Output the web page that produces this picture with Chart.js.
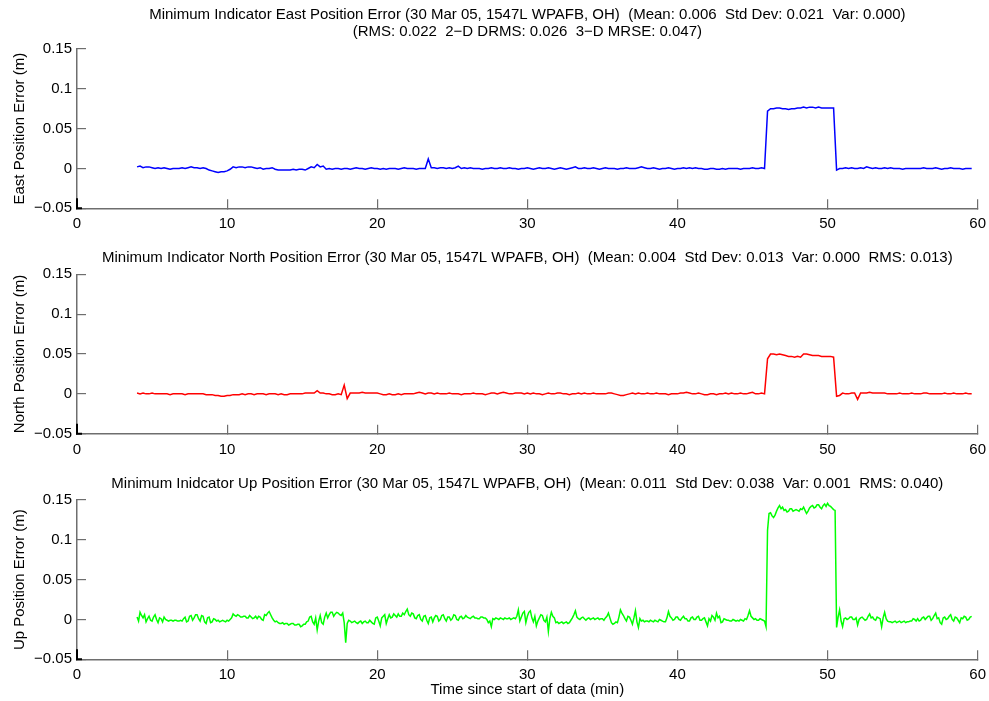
<!DOCTYPE html>
<html>
<head>
<meta charset="utf-8">
<title>Minimum Indicator Position Error</title>
<script src="https://cdn.jsdelivr.net/npm/chart.js@4.4.1/dist/chart.umd.min.js"></script>
<style>
  html, body { margin: 0; padding: 0; background: #fff; }
  #wrap { position: relative; width: 989px; height: 701px; overflow: hidden; }
  .panel { position: absolute; left: 0; width: 989px; }
  .panel canvas { display: block; }
</style>
</head>
<body>
<div id="wrap">
  <div class="panel" style="top:0;height:232px"><canvas id="east-chart" width="989" height="232"></canvas></div>
  <div class="panel" style="top:232px;height:226px"><canvas id="north-chart" width="989" height="226"></canvas></div>
  <div class="panel" style="top:458px;height:243px"><canvas id="up-chart" width="989" height="243"></canvas></div>
</div>
<script>
// all series start 4.0 min into the data
const startMin = 4.0;
// east/north sampled every 0.2 min, up every 0.1 min
const stepEN = 0.2;
const stepUp = 0.1;

// position errors in millimetres, one row = 2 minutes
const eastMm = [
  2, 3, 1, 2, 2, 1, 0, 1, 0, 1,
  0, -1, 0, 0, 0, 1, 0, 1, 2, 1,
  1, 0, 1, 0, -2, -3, -4, -5, -4, -4,
  -3, -1, 2, 1, 2, 2, 1, 2, 2, 1,
  0, 1, -1, 0, 0, 1, -1, -2, -2, -2,
  -2, -2, -1, -2, -1, -1, -2, 0, 2, 1,
  5, 2, 3, -1, 0, -1, 0, 0, -1, 0,
  0, -1, 0, 1, 0, 0, -1, 0, 1, 0,
  0, -1, 0, -1, 0, 0, 0, -1, 0, 1,
  0, 0, 0, -1, 0, 0, 0, 12, 1, 1,
  0, 1, 1, 0, 1, 0, 1, 3, 0, 1,
  0, 1, 0, 0, 0, -1, 0, 0, 1, 0,
  0, 1, 0, 0, 1, 0, 0, -1, 0, 0,
  1, 0, -1, 0, 1, 0, 0, 1, 0, -1,
  0, 1, 0, -1, 0, 1, 2, 0, 0, 1,
  0, 0, 1, 0, -1, 0, 1, 0, 0, 0,
  -1, 0, 0, 1, 0, 0, 0, 1, 2, 1,
  0, 0, 1, 0, -1, 0, 0, 1, 0, -1,
  0, 0, 1, 0, 1, 0, 1, 0, 0, -1,
  -1, 0, 0, -1, -1, 0, -1, 0, 0, 0,
  0, -1, 0, 0, 0, 1, 0, 0, 1, 0,
  72, 75, 75, 76, 76, 75, 75, 74, 75, 75,
  76, 76, 77, 76, 77, 77, 76, 77, 76, 76,
  76, 76, 76, -2, 0, 0, 1, 0, 1, 0,
  0, 1, 0, 2, 1, 0, 1, 0, 0, 1,
  0, 1, 0, 0, 0, -1, 0, 0, 0, 0,
  0, 0, 1, 0, 0, 0, 1, 0, -1, 0,
  0, 1, 0, 0, 0, -1, 0, 0, 0
];

const northMm = [
  1, 0, 1, 0, 0, 1, 0, 0, 0, 0,
  0, -1, 0, 0, 0, 0, -1, 0, 0, 0,
  0, 0, 0, -1, -1, -1, -2, -2, -3, -3,
  -2, -2, -1, -1, -1, 0, -1, 0, 0, -1,
  0, 0, 0, -1, 0, 0, 0, -1, 0, -1,
  -1, 0, 0, 0, 0, 0, 1, 1, 1, 1,
  4, 1, 1, 0, 0, -1, -1, 0, -1, 11,
  -6, 1, 1, 1, 1, 2, 1, 1, 1, 1,
  1, 0, -1, -1, 0, -1, -1, 0, -1, 0,
  0, 0, 0, 1, 2, 1, 0, 1, 1, 0,
  1, 0, 0, 0, 1, 0, 0, 0, -1, 0,
  0, 0, 1, 0, 0, 0, -1, 0, 1, 1,
  0, 1, 2, 1, 0, 0, 1, 1, 1, 0,
  1, 0, 1, 0, 0, -1, 0, 1, 0, 0,
  1, 1, 0, 0, -1, 0, 0, 1, 0, 1,
  0, 0, 1, 0, 0, 0, 0, 1, 1, 0,
  -1, -2, -2, -1, 0, 1, 0, 1, 0, 0,
  1, 0, 0, 1, 0, 0, 0, -1, 0, 0,
  0, 1, 1, 2, 1, 0, 0, 1, 0, -1,
  -1, 0, 0, -1, 0, 0, 1, 0, 1, 0,
  0, 1, 0, 0, 1, 2, 0, 0, 1, 0,
  44, 50, 50, 49, 50, 49, 48, 47, 47, 46,
  47, 46, 50, 50, 49, 48, 48, 48, 47, 47,
  47, 47, 46, -3, -2, 1, 0, 0, 1, 1,
  -7, 1, 1, 1, 2, 1, 1, 1, 1, 1,
  0, 0, 0, 0, 1, 0, 0, 0, 1, 0,
  0, 0, 1, 1, 0, 0, 0, 0, 0, 1,
  0, 0, 1, 0, 0, 0, 1, 0, 0
];

// one row = 2 minutes at 0.1 min
const upMm = [
  3, -2, 9, 5, 2, 6, -3, 1, 4, -1, -2, 3, 6, 0, -4, 2, 1, -3, 3, 0,
  -1, -2, -1, -1, -2, -1, -1, -2, -2, -1, -2, 1, 3, -3, -2, 4, 5, -1, 2, 6,
  6, 1, -2, 5, 4, -3, -5, 2, 3, -4, -3, 1, 0, -2, -1, -3, -2, -1, -2, -3,
  -1, -2, 0, 2, 7, 5, 4, 6, 5, 3, 3, 4, 4, 2, 2, 5, 3, 1, 2, 4,
  1, 4, 3, 0, -1, 6, 5, 8, 10, 6, 2, -1, -3, -2, -4, -5, -5, -4, -6, -5,
  -5, -7, -6, -5, -5, -7, -7, -6, -6, -9, -8, -6, -6, -3, -2, 3, 4, -3, -6, 2,
  -13, -2, 5, -4, -6, 3, 8, 2, 6, 9, 9, 4, 7, 9, 8, 6, 5, 8, -4, -29,
  -5, -1, -2, -4, -3, -2, -4, -5, -3, -2, -5, -3, -2, -4, -4, -1, -3, -5, -6, 2,
  3, -2, -8, 2, 4, 6, -5, 1, 6, 2, 3, 7, 5, 3, 7, 4, 4, 8, 6, 10,
  13, 6, 4, 8, 7, 2, 1, 5, 6, 0, -2, 4, 5, -1, -5, 2, 3, -3, 2, 5,
  4, -2, 0, 5, 6, 1, -2, 3, 3, -1, 1, 6, 5, 0, -1, 3, 4, 1, 2, 5,
  3, 2, 1, 3, 4, 2, 2, 1, 1, 3, 3, 2, 2, 0, -4, -2, -9, 1, 0, 2,
  1, 0, 2, 1, 0, 2, 1, 1, 2, 0, 1, 2, 1, 4, 12, -2, 3, 8, 10, -4,
  4, 9, 11, 2, -3, 4, -8, -2, 2, 6, 5, -1, -3, 3, -15, 1, 9, 4, 2, -4,
  -3, -5, -4, -3, -5, -4, -3, -5, -4, -1, 2, 6, 11, 3, 1, 0, 2, 3, 1, -1,
  1, 2, 0, 1, 2, 0, 1, 2, 0, 1, 1, -1, 2, 4, 8, 2, -4, -6, -5, -3,
  -4, 3, 12, 8, 5, 1, -2, 4, 3, -1, -6, 2, 11, -3, -10, 1, -2, -1, -3, -2,
  -2, -3, -1, -2, -3, -1, -2, -3, 0, -1, -2, -3, -3, 2, 10, 4, 2, -1, 0, 3,
  3, 0, -1, 2, 4, 1, 1, -2, -2, 2, 3, 0, 0, 3, 4, -1, -1, 1, 2, -3,
  -8, 1, -2, 5, 3, -1, 8, 2, 4, -4, -3, 1, 0, -1, -1, -2, -2, 0, -1, -2,
  -1, -2, 0, -1, -2, 1, 0, 5, 11, 4, 2, 0, 1, -1, -1, 1, 0, -1, -2, -9,
  112, 133, 134, 130, 128, 131, 136, 140, 143, 139, 141, 137, 138, 135, 136, 139, 139, 136, 137, 138,
  137, 136, 139, 138, 141, 137, 133, 136, 140, 142, 143, 140, 141, 144, 144, 141, 139, 143, 145, 142,
  146, 143, 142, 140, 138, 137, -10, 3, 12, -2, -9, 1, 2, 0, 1, 3, 3, 0, 0, 2,
  -7, 0, 2, 3, 1, -1, 0, 4, 7, 2, 3, 0, -1, 3, 2, 1, -9, 2, 9, 1,
  -2, -3, -3, -4, -3, -2, -4, -3, -2, -4, -3, -2, -4, -3, -3, -2, -2, 1, 0, -2,
  1, -2, -1, 2, 3, 0, 2, 4, 4, -1, 1, 5, 8, 1, 2, -4, -6, 2, 3, 0,
  1, 4, 6, 0, -2, 3, 2, -1, -4, 2, 1, 4, 3, -1, 0, 3, 4
];

const xTicks = [0, 10, 20, 30, 40, 50, 60];
const yTicks = [-0.05, 0, 0.05, 0.1, 0.15];

const eastTitle = [
  'Minimum Indicator East Position Error (30 Mar 05, 1547L WPAFB, OH)  (Mean: 0.006  Std Dev: 0.021  Var: 0.000)',
  '(RMS: 0.022  2\u2212D DRMS: 0.026  3\u2212D MRSE: 0.047)'
];
const northTitle = 'Minimum Indicator North Position Error (30 Mar 05, 1547L WPAFB, OH)  (Mean: 0.004  Std Dev: 0.013  Var: 0.000  RMS: 0.013)';
const upTitle = 'Minimum Inidcator Up Position Error (30 Mar 05, 1547L WPAFB, OH)  (Mean: 0.011  Std Dev: 0.038  Var: 0.001  RMS: 0.040)';

const FONT = "'Liberation Sans', Arial, Helvetica, sans-serif";
const AXIS_GREY = '#6e6e6e';

function toPoints(valuesMm, step) {
  return valuesMm.map((v, i) => ({ x: startMin + i * step, y: v / 1000 }));
}

function fmtTick(v) {
  const s = String(Number(v.toFixed(2)));
  return s.replace('-', '\u2212');
}

// dark stub at the lower-left corner of each axes box
const cornerPlugin = {
  id: 'corner',
  afterDraw(chart) {
    const a = chart.chartArea;
    const ctx = chart.ctx;
    ctx.save();
    ctx.strokeStyle = '#000';
    ctx.lineWidth = 2;
    ctx.beginPath();
    ctx.moveTo(a.left, a.bottom - 10);
    ctx.lineTo(a.left, a.bottom);
    ctx.lineTo(a.left + 5, a.bottom);
    ctx.stroke();
    ctx.restore();
  }
};

function makePanel(id, cfg) {
  const ctx = document.getElementById(id);
  return new Chart(ctx, {
    type: 'line',
    data: {
      datasets: [{
        data: toPoints(cfg.values, cfg.step),
        borderColor: cfg.color,
        borderWidth: 1.5,
        pointRadius: 0,
        tension: 0,
        fill: false
      }]
    },
    options: {
      responsive: false,
      animation: false,
      events: [],
      layout: { padding: { left: 0, right: 11.3, top: 0, bottom: 0 } },
      plugins: {
        legend: { display: false },
        tooltip: { enabled: false },
        title: {
          display: true,
          fullSize: false,
          text: cfg.title,
          color: '#000',
          font: { family: FONT, size: 15, weight: 'normal', lineHeight: 1.1 },
          padding: { top: cfg.titleTop, bottom: cfg.titleBottom }
        }
      },
      scales: {
        x: {
          type: 'linear',
          min: 0,
          max: 60,
          afterFit: s => { s.height = cfg.xHeight; s.paddingLeft = 0; s.paddingRight = 0; },
          afterBuildTicks: s => { s.ticks = xTicks.map(v => ({ value: v })); },
          border: { color: AXIS_GREY, width: 1.5 },
          grid: { drawOnChartArea: false, drawTicks: true, tickLength: -9, color: AXIS_GREY, lineWidth: 1.2 },
          ticks: { color: '#000', padding: 16, maxRotation: 0, font: { family: FONT, size: 15 } },
          title: {
            display: !!cfg.xTitle,
            text: cfg.xTitle || '',
            color: '#000',
            font: { family: FONT, size: 15 },
            padding: { top: 0, bottom: 2 }
          }
        },
        y: {
          type: 'linear',
          min: -0.05,
          max: 0.15,
          afterFit: s => { s.width = 77; },
          afterBuildTicks: s => { s.ticks = yTicks.map(v => ({ value: v })); },
          border: { color: AXIS_GREY, width: 1.5 },
          grid: { drawOnChartArea: false, drawTicks: true, tickLength: -9, color: AXIS_GREY, lineWidth: 1.2 },
          ticks: { color: '#000', padding: 14, callback: v => fmtTick(v), font: { family: FONT, size: 15 } },
          title: {
            display: true,
            text: cfg.yTitle,
            color: '#000',
            font: { family: FONT, size: 15 },
            padding: { top: 11, bottom: 0 }
          }
        }
      }
    },
    plugins: [cornerPlugin]
  });
}

document.addEventListener('DOMContentLoaded', function() {
  makePanel('east-chart', {
    values: eastMm, step: stepEN, color: '#0000ff', title: eastTitle,
    titleTop: 6.75, titleBottom: 9.25, xHeight: 23.7,
    yTitle: 'East Position Error (m)'
  });
  makePanel('north-chart', {
    values: northMm, step: stepEN, color: '#ff0000', title: northTitle,
    titleTop: 18, titleBottom: 7.8, xHeight: 24.3,
    yTitle: 'North Position Error (m)'
  });
  makePanel('up-chart', {
    values: upMm, step: stepUp, color: '#00ff00', title: upTitle,
    titleTop: 17.75, titleBottom: 7.75, xHeight: 41.7,
    yTitle: 'Up Position Error (m)',
    xTitle: 'Time since start of data (min)'
  });
});
</script>
</body>
</html>
